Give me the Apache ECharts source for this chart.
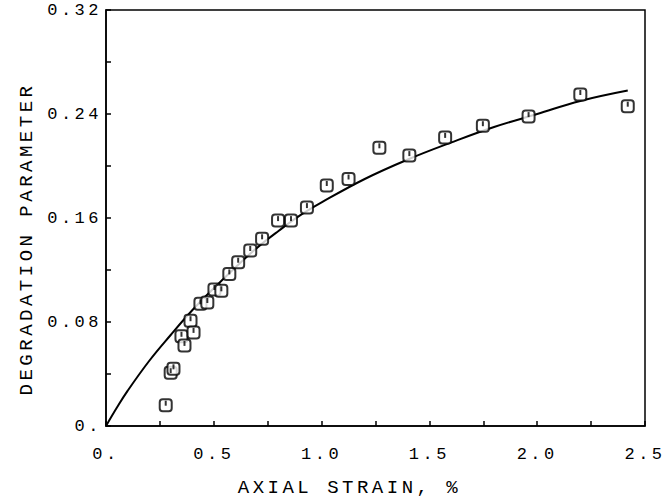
<!DOCTYPE html>
<html>
<head>
<meta charset="utf-8">
<script src="https://cdn.jsdelivr.net/npm/echarts@6/dist/echarts.min.js"></script>
<style>
  html, body { margin: 0; padding: 0; background: #fff; }
  #chart { width: 667px; height: 502px; }
  #chart text { letter-spacing: 3.5px; }
</style>
</head>
<body>
<div id="chart"></div>
<script>
// Measured data points (axial strain %, degradation parameter)
const strainPoints = [0.277, 0.300, 0.313, 0.350, 0.364, 0.392, 0.406, 0.438, 0.470, 0.503, 0.535,
  0.572, 0.613, 0.669, 0.724, 0.798, 0.858, 0.932, 1.024, 1.125, 1.268, 1.407, 1.573, 1.748, 1.960, 2.200, 2.420];
const degradationPoints = [0.016, 0.041, 0.044, 0.069, 0.062, 0.081, 0.072, 0.094, 0.095, 0.105, 0.104,
  0.117, 0.126, 0.135, 0.144, 0.158, 0.158, 0.168, 0.185, 0.190, 0.214, 0.208, 0.222, 0.231, 0.238, 0.255, 0.246];

// Fitted curve
const curveStrain = [0, 0.05, 0.1, 0.2, 0.3, 0.4, 0.5, 0.6, 0.7, 0.8, 0.9, 1.0, 1.2, 1.4, 1.6, 1.8, 2.0, 2.2, 2.42];
const curveDegradation = [0, 0.014, 0.027, 0.050, 0.070, 0.089, 0.106, 0.122, 0.137, 0.150, 0.162, 0.172, 0.190, 0.205, 0.218, 0.230, 0.240, 0.250, 0.258];

// Tick labels
const xTickValues = [0, 0.5, 1.0, 1.5, 2.0, 2.5];
const xTickLabels = ['0.', '0.5', '1.0', '1.5', '2.0', '2.5'];
const yTickValues = [0, 0.08, 0.16, 0.24, 0.32];
const yTickLabels = ['0.', '0.08', '0.16', '0.24', '0.32'];

const xName = 'AXIAL STRAIN, %';
const yName = 'DEGRADATION PARAMETER';

function labelFor(values, labels) {
  return function (v) {
    const i = values.findIndex(t => Math.abs(t - v) < 1e-6);
    return i >= 0 ? labels[i] : '';
  };
}

const font = 'Liberation Mono';
const chart = echarts.init(document.getElementById('chart'), null, { renderer: 'svg' });
const pts = strainPoints.map((x, i) => [x, degradationPoints[i]]);
const curve = curveStrain.map((x, i) => [x, curveDegradation[i]]);

chart.setOption({
  animation: false,
  backgroundColor: '#fff',
  grid: {
    left: 106, right: 22, top: 10, bottom: 75,
    show: true, borderColor: '#000', borderWidth: 1.5, backgroundColor: 'transparent'
  },
  xAxis: {
    type: 'value', min: 0, max: 2.5, interval: 0.25,
    name: xName, nameLocation: 'middle', nameGap: 52,
    nameTextStyle: { fontFamily: font, fontSize: 19, color: '#000', padding: [0, 52, 0, 0] },
    axisLine: { show: true, lineStyle: { color: '#000', width: 1.5 } },
    axisTick: { show: true, inside: true, length: 5, lineStyle: { color: '#000', width: 1.5 } },
    axisLabel: { formatter: labelFor(xTickValues, xTickLabels), fontFamily: font, fontSize: 17, color: '#000', margin: 20, showMinLabel: true, showMaxLabel: true },
    splitLine: { show: false }
  },
  yAxis: {
    type: 'value', min: 0, max: 0.32, interval: 0.04,
    name: yName, nameLocation: 'middle', nameGap: 70,
    nameTextStyle: { fontFamily: font, fontSize: 19, color: '#000', padding: [0, 42, 0, 0] },
    axisLine: { show: true, lineStyle: { color: '#000', width: 1.5 } },
    axisTick: { show: true, inside: true, length: 5, lineStyle: { color: '#000', width: 1.5 } },
    axisLabel: { formatter: labelFor(yTickValues, yTickLabels), fontFamily: font, fontSize: 17, color: '#000', margin: 4, showMinLabel: true, showMaxLabel: true },
    splitLine: { show: false }
  },
  series: [
    {
      type: 'line', data: curve, smooth: 0.4, symbol: 'none',
      lineStyle: { color: '#000', width: 2 }, z: 2
    },
    {
      type: 'scatter', data: pts, symbol: 'emptyRoundRect', symbolSize: 12,
      itemStyle: { color: '#000', borderColor: '#000', borderWidth: 2 }, z: 3
    },
    {
      type: 'scatter', data: pts, symbol: 'rect', symbolSize: [2, 5], symbolOffset: [0, -2],
      itemStyle: { color: '#000' }, z: 4
    }
  ]
});
</script>
</body>
</html>
